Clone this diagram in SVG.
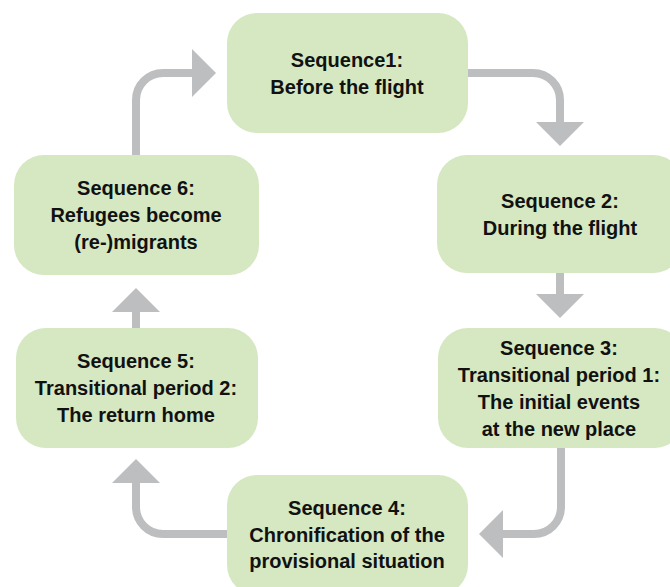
<svg xmlns="http://www.w3.org/2000/svg" width="670" height="587" viewBox="0 0 670 587">
  <style>
    .box { fill: #d5e8c2; }
    .lbl { font-family: "Liberation Sans", Arial, sans-serif; font-weight: bold; font-size: 20px; fill: #111; text-anchor: middle; }
    .conn { fill: none; stroke: #bdbec0; stroke-width: 8; marker-end: url(#ah); }
  </style>
  <defs>
    <marker id="ah" markerUnits="userSpaceOnUse" markerWidth="24" markerHeight="48" viewBox="0 0 24 48" refX="0" refY="24" orient="auto">
      <polygon points="0,0 24,24 0,48" fill="#bdbec0"/>
    </marker>
  </defs>
  <rect width="670" height="587" fill="#ffffff"/>
  <g id="connectors">
    <path class="conn" d="M467,73 H533 A27,27 0 0 1 560,100 V122"/>
    <path class="conn" d="M560,273 V294"/>
    <path class="conn" d="M561,448 V507 A27,27 0 0 1 534,534 H503"/>
    <path class="conn" d="M227,534 H163 A27,27 0 0 1 136,507 V483"/>
    <path class="conn" d="M136,328 V312"/>
    <path class="conn" d="M136,155 V100 A27,27 0 0 1 163,73 H192"/>
  </g>
  <g id="node1">
    <rect class="box" x="227" y="13" width="241" height="120" rx="30"/>
    <text class="lbl" x="347" y="67">Sequence1:</text>
    <text class="lbl" x="347" y="94">Before the flight</text>
  </g>
  <g id="node2">
    <rect class="box" x="437" y="155" width="246" height="118" rx="30"/>
    <text class="lbl" x="560" y="208">Sequence 2:</text>
    <text class="lbl" x="560" y="235">During the flight</text>
  </g>
  <g id="node3">
    <rect class="box" x="438" y="328" width="246" height="120" rx="30"/>
    <text class="lbl" x="559" y="355">Sequence 3:</text>
    <text class="lbl" x="559" y="382">Transitional period 1:</text>
    <text class="lbl" x="559" y="409">The initial events</text>
    <text class="lbl" x="559" y="436">at the new place</text>
  </g>
  <g id="node4">
    <rect class="box" x="227" y="475" width="241" height="120" rx="30"/>
    <text class="lbl" x="347" y="515">Sequence 4:</text>
    <text class="lbl" x="347" y="542">Chronification of the</text>
    <text class="lbl" x="347" y="568">provisional situation</text>
  </g>
  <g id="node5">
    <rect class="box" x="16" y="328" width="242" height="120" rx="30"/>
    <text class="lbl" x="136" y="368">Sequence 5:</text>
    <text class="lbl" x="136" y="395">Transitional period 2:</text>
    <text class="lbl" x="136" y="422">The return home</text>
  </g>
  <g id="node6">
    <rect class="box" x="14" y="155" width="245" height="120" rx="30"/>
    <text class="lbl" x="136" y="195">Sequence 6:</text>
    <text class="lbl" x="136" y="222">Refugees become</text>
    <text class="lbl" x="136" y="249">(re-)migrants</text>
  </g>
</svg>
